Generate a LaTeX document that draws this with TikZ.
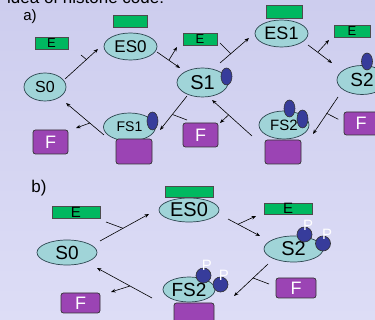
\documentclass[tikz,border=0pt]{standalone}
\usepackage{fontspec}
\setmainfont{Liberation Sans}
\usetikzlibrary{shapes.geometric,arrows.meta}

\definecolor{bgtop}{RGB}{205,205,238}
\definecolor{bgbot}{RGB}{221,221,246}
\definecolor{tealfill}{RGB}{160,212,216}
\definecolor{tealline}{RGB}{45,70,80}
\definecolor{egreen}{RGB}{0,184,96}
\definecolor{fpurple}{RGB}{155,68,180}
\definecolor{pblue}{RGB}{55,60,155}

\newcommand{\fs}[1]{\fontsize{#1}{#1}\selectfont}

\tikzset{
  state/.style={ellipse, draw=tealline, fill=tealfill, line width=0.7pt, inner sep=0pt, text=black},
  ebox/.style={rectangle, draw=black!70, fill=egreen, line width=0.6pt, inner sep=0pt, text=black},
  fbox/.style={rectangle, rounded corners=2.5pt, draw=black!80, fill=fpurple, line width=0.7pt, inner sep=0pt, text=white, font=\fs{18}},
  mark1/.style={ellipse, draw=black!80, fill=pblue, line width=0.6pt, inner sep=0pt},
  pdot/.style={circle, draw=black!80, fill=pblue, line width=0.6pt, inner sep=0pt, minimum size=15pt},
  plab/.style={text=white, font=\fs{15}, inner sep=0pt},
  rxn/.style={line width=0.6pt, -{Stealth[length=4.5pt,width=3.5pt]}},
  rel/.style={line width=0.6pt, -{Stealth[length=4.5pt,width=3.5pt]}},
  bind/.style={line width=0.6pt},
  lab/.style={inner sep=0pt, text=black}
}

\begin{document}
\begin{tikzpicture}[x=1pt,y=-1pt]
\useasboundingbox (0,0) rectangle (375,320);
\clip (0,0) rectangle (375,320);
\shade[top color=bgtop, bottom color=bgbot] (0,0) rectangle (375,320);

% heading line, mostly above the frame
\node[lab, anchor=base west, font=\fs{17}] (head) at (7,3.5) {idea of histone code:};

%% ---------------- panel a ----------------
\node[lab, font=\fs{15}] (la) at (30,17) {a)};

% states
\node[state, minimum width=42pt, minimum height=28pt, font=\fs{16}] (S0a) at (45,87) {S0};
\node[state, minimum width=53pt, minimum height=27pt, font=\fs{17}] (ES0a) at (130.5,46.5) {ES0};
\node[state, minimum width=51pt, minimum height=29pt, font=\fs{20}] (S1a) at (202.5,82.5) {S1};
\node[state, minimum width=53pt, minimum height=27pt, font=\fs{18}] (ES1a) at (281.5,33.5) {ES1};
\node[state, minimum width=50pt, minimum height=29pt, font=\fs{19}] (S2a) at (362,80) {S2};
\node[state, minimum width=50pt, minimum height=28pt, font=\fs{15}] (FS2a) at (284,125) {FS2};
\node[state, minimum width=52pt, minimum height=28pt, font=\fs{14}] (FS1a) at (129.5,127) {FS1};

% enzyme bars on the complexes and free enzymes
\node[ebox, minimum width=34pt, minimum height=12pt] (gES0a) at (130,21) {};
\node[ebox, minimum width=36pt, minimum height=13pt] (gES1a) at (284,11.5) {};
\node[ebox, minimum width=33pt, minimum height=12pt, font=\fs{13}] (Ea1) at (51.5,43) {E};
\node[ebox, minimum width=34pt, minimum height=12pt, font=\fs{13}] (Ea2) at (200,39) {E};
\node[ebox, minimum width=36pt, minimum height=12pt, font=\fs{13}] (Ea3) at (352,31) {E};

% marks
\node[mark1, minimum width=11pt, minimum height=17pt] (m1a) at (226.5,76.5) {};
\node[mark1, minimum width=11pt, minimum height=17pt] (m2a) at (367,61.5) {};
\node[mark1, minimum width=11pt, minimum height=17pt] (m3a) at (289.5,108.5) {};
\node[mark1, minimum width=11pt, minimum height=18pt] (m4a) at (302.5,119) {};
\node[mark1, minimum width=11pt, minimum height=18pt] (m5a) at (152.5,121) {};

% F boxes: bound ones under the complexes, free ones aside
\node[fbox, minimum width=36pt, minimum height=25pt] (pFS1a) at (134,151.5) {};
\node[fbox, minimum width=36pt, minimum height=24pt] (pFS2a) at (283,152) {};
\node[fbox, minimum width=35pt, minimum height=24pt] (Fa1) at (50.5,142) {F};
\node[fbox, minimum width=35pt, minimum height=24pt] (Fa2) at (200.5,135) {F};
\node[fbox, minimum width=34pt, minimum height=23pt] (Fa3) at (361,123.5) {F};

% connector end points
\coordinate (a1s) at (65,79);    \coordinate (a1e) at (98,49);
\coordinate (a1t) at (81,55);    \coordinate (a1j) at (87,60);
\coordinate (a2s) at (157,52);   \coordinate (a2e) at (180,68);
\coordinate (a2j) at (169,60);   \coordinate (a2r) at (177,47);
\coordinate (a3s) at (220,63);   \coordinate (a3e) at (249,38);
\coordinate (a3t) at (220,43);   \coordinate (a3j) at (231,54);
\coordinate (a4s) at (308,45);   \coordinate (a4e) at (332,63);
\coordinate (a4j) at (318,52);   \coordinate (a4r) at (329,40);
\coordinate (a5s) at (338,97);   \coordinate (a5e) at (313,134);
\coordinate (a5j) at (326.6,113.3); \coordinate (a5t) at (338.3,119.3);
\coordinate (a6s) at (252,136);  \coordinate (a6e) at (212,100);
\coordinate (a6j) at (228.5,115); \coordinate (a6r) at (220,123);
\coordinate (a7s) at (187,96);   \coordinate (a7e) at (160,130);
\coordinate (a7j) at (172.5,114.5); \coordinate (a7t) at (187,120);
\coordinate (a8s) at (104,135);  \coordinate (a8e) at (66,103);
\coordinate (a8j) at (90,123);   \coordinate (a8r) at (76,128);

\draw[rxn]  (a1s) -- (a1e);  \draw[bind] (a1t) -- (a1j);
\draw[rxn]  (a2s) -- (a2e);  \draw[rel]  (a2j) -- (a2r);
\draw[rxn]  (a3s) -- (a3e);  \draw[bind] (a3t) -- (a3j);
\draw[rxn]  (a4s) -- (a4e);  \draw[rel]  (a4j) -- (a4r);
\draw[rxn]  (a5s) -- (a5e);  \draw[bind] (a5j) -- (a5t);
\draw[rxn]  (a6s) -- (a6e);  \draw[rel]  (a6j) -- (a6r);
\draw[rxn]  (a7s) -- (a7e);  \draw[bind] (a7j) -- (a7t);
\draw[rxn]  (a8s) -- (a8e);  \draw[rel]  (a8j) -- (a8r);

%% ---------------- panel b ----------------
\node[lab, font=\fs{17}] (lb) at (39,188) {b)};

\node[state, minimum width=60pt, minimum height=25pt, font=\fs{19}] (S0b) at (67,252.5) {S0};
\node[state, minimum width=60pt, minimum height=24pt, font=\fs{20}] (ES0b) at (189,210) {ES0};
\node[state, minimum width=59pt, minimum height=26pt, font=\fs{20}] (S2b) at (293.5,249) {S2};
\node[state, minimum width=52pt, minimum height=25pt, font=\fs{19}] (FS2b) at (189,289.5) {FS2};

\node[ebox, minimum width=48pt, minimum height=11pt] (gES0b) at (189,191.5) {};
\node[ebox, minimum width=48pt, minimum height=12pt, font=\fs{15}] (Eb1) at (76,212) {E};
\node[ebox, minimum width=48pt, minimum height=11pt, font=\fs{15}] (Eb2) at (288,208.5) {E};

% phosphate marks
\node[pdot] (p1b) at (304.5,234.5) {};
\node[pdot] (p2b) at (323,243.5) {};
\node[pdot] (p3b) at (203.5,275.5) {};
\node[pdot] (p4b) at (220.5,284.5) {};
\node[plab] (P1) at (308,225.5) {P};
\node[plab] (P2) at (327,234.5) {P};
\node[plab] (P3) at (207,265.5) {P};
\node[plab] (P4) at (224,275.5) {P};

\node[fbox, minimum width=40pt, minimum height=22pt] (pFS2b) at (194,314) {};
\node[fbox, minimum width=39pt, minimum height=20pt] (Fb1) at (80.5,303) {F};
\node[fbox, minimum width=40pt, minimum height=20pt] (Fb2) at (296,288) {F};

\coordinate (b1s) at (100,241);  \coordinate (b1e) at (149,214);
\coordinate (b1t) at (106,222);  \coordinate (b1j) at (123,228.3);
\coordinate (b2s) at (228,219);  \coordinate (b2e) at (260,236);
\coordinate (b2j) at (238,224.3); \coordinate (b2r) at (256,216);
\coordinate (b3s) at (268,264);  \coordinate (b3e) at (234,296);
\coordinate (b3j) at (253.1,278); \coordinate (b3t) at (269,284);
\coordinate (b4s) at (152,298);  \coordinate (b4e) at (97,268);
\coordinate (b4j) at (130,286);  \coordinate (b4r) at (111,292);

\draw[rxn]  (b1s) -- (b1e);  \draw[bind] (b1t) -- (b1j);
\draw[rxn]  (b2s) -- (b2e);  \draw[rel]  (b2j) -- (b2r);
\draw[rxn]  (b3s) -- (b3e);  \draw[bind] (b3j) -- (b3t);
\draw[rxn]  (b4s) -- (b4e);  \draw[rel]  (b4j) -- (b4r);
\end{tikzpicture}
\end{document}
